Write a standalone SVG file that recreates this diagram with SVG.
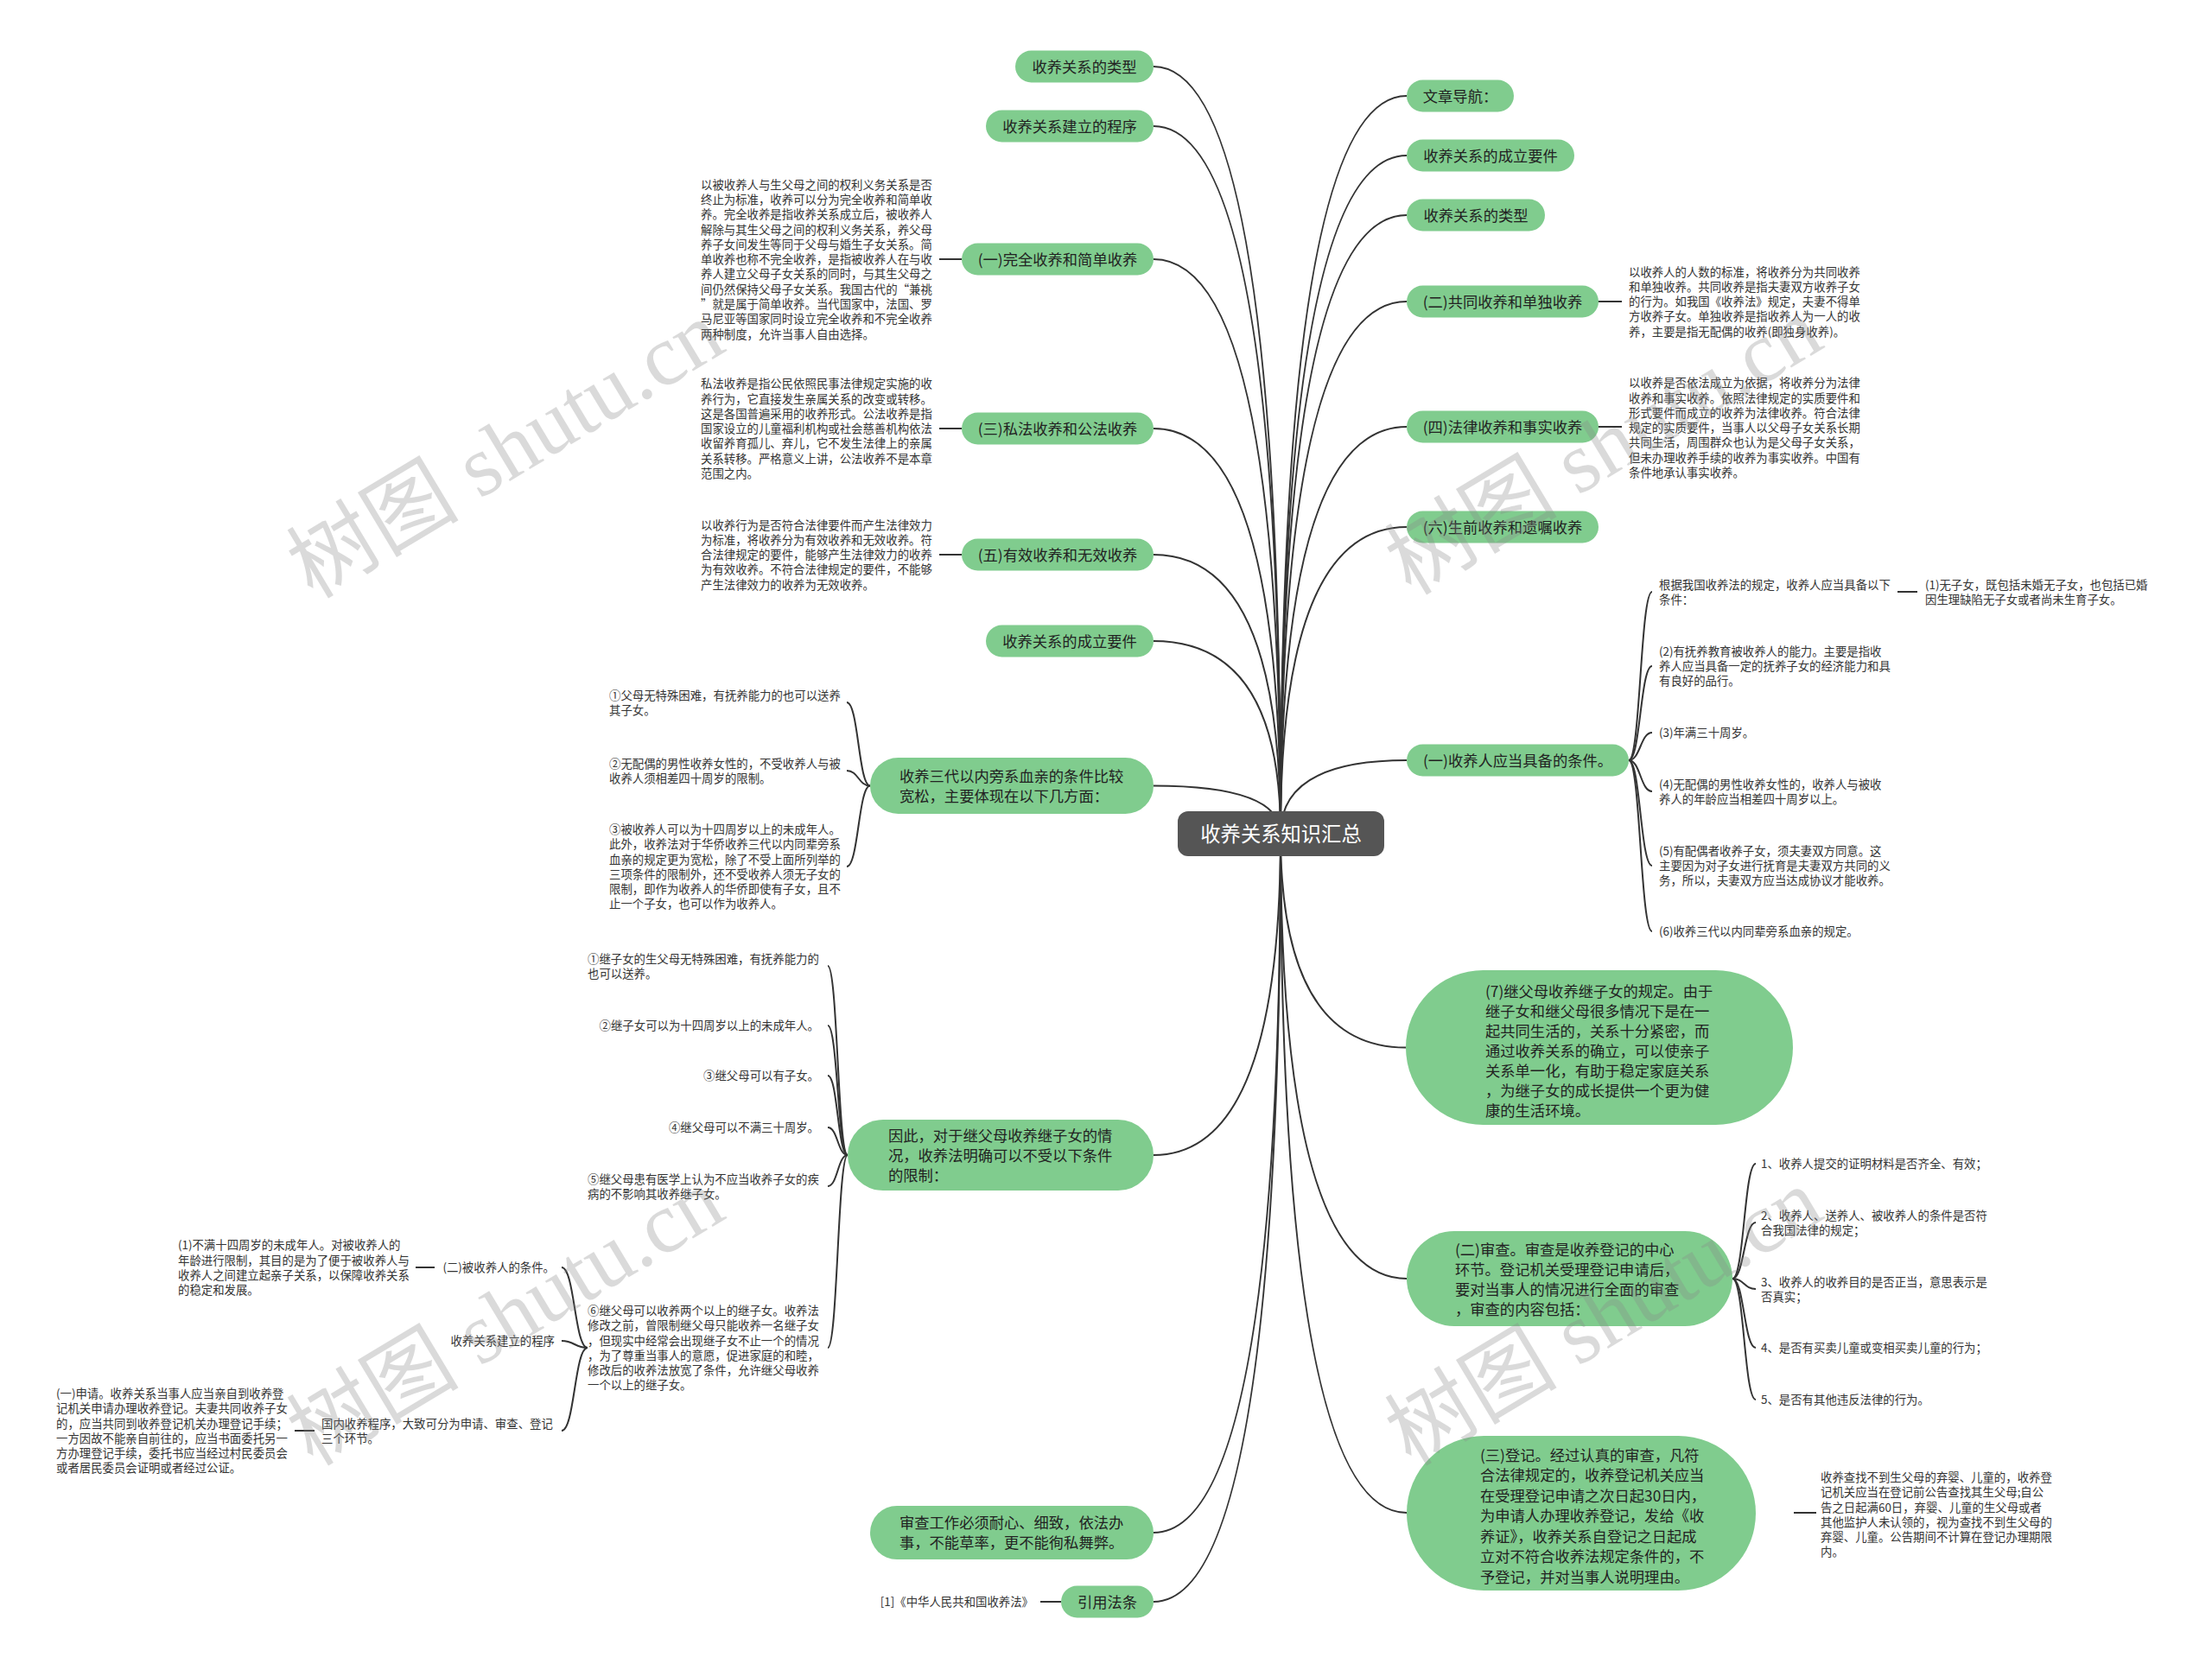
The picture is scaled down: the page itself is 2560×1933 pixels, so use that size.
<svg xmlns="http://www.w3.org/2000/svg" width="2560" height="1933" viewBox="0 0 2560 1933">
<style>
.n{font-family:"Noto Sans CJK SC","Microsoft YaHei",sans-serif;font-size:17.3px;fill:#222}
.c{font-family:"Noto Sans CJK SC","Microsoft YaHei",sans-serif;font-size:23.3px;fill:#fff}
.t{font-family:"Noto Sans CJK SC","Microsoft YaHei",sans-serif;font-size:13.4px;fill:#333}
.m{text-anchor:middle}
.e{text-anchor:end}
.pill{fill:#80cc8e}
.link{fill:none;stroke:#333;stroke-width:2}
.wm{font-family:"Liberation Serif","Noto Sans CJK SC",serif;font-size:100px;fill:#888;opacity:.3}
</style>
<rect width="2560" height="1933" fill="#ffffff"/>
<g id="connectors">
<path class="link" d="M1482,965 Q1482,77 1335,77"/>
<path class="link" d="M1482,965 Q1482,146 1335,146"/>
<path class="link" d="M1482,965 Q1482,300 1335,300"/>
<path class="link" d="M1482,965 Q1482,496 1335,496"/>
<path class="link" d="M1482,965 Q1482,642 1335,642"/>
<path class="link" d="M1482,965 Q1482,742 1335,742"/>
<path class="link" d="M1482,965 Q1482,909.5 1335,909.5"/>
<path class="link" d="M1482,965 Q1482,1337 1335,1337"/>
<path class="link" d="M1482,965 Q1482,1774 1335,1774"/>
<path class="link" d="M1482,965 Q1482,1854 1335,1854"/>
<path class="link" d="M1482,965 Q1482,111 1628,111"/>
<path class="link" d="M1482,965 Q1482,180 1628,180"/>
<path class="link" d="M1482,965 Q1482,249 1628,249"/>
<path class="link" d="M1482,965 Q1482,349 1628,349"/>
<path class="link" d="M1482,965 Q1482,494 1628,494"/>
<path class="link" d="M1482,965 Q1482,610 1628,610"/>
<path class="link" d="M1482,965 Q1482,880 1628,880"/>
<path class="link" d="M1482,965 Q1482,1212.5 1627,1212.5"/>
<path class="link" d="M1482,965 Q1482,1480 1628,1480"/>
<path class="link" d="M1482,965 Q1482,1751 1628,1751"/>
<path class="link" d="M1087,300 H1113"/>
<path class="link" d="M1087,496 H1113"/>
<path class="link" d="M1087,642 H1113"/>
<path class="link" d="M481,1467 H503"/>
<path class="link" d="M341,1656 H364"/>
<path class="link" d="M1204,1854 H1228"/>
<path class="link" d="M1847,349 H1877"/>
<path class="link" d="M1847,494 H1877"/>
<path class="link" d="M2196,685 H2219"/>
<path class="link" d="M2076,1751 H2102"/>
<path class="link" d="M1007,909.5 C993.5,909.5 993.5,813 980,813"/>
<path class="link" d="M1007,909.5 C993.5,909.5 993.5,892 980,892"/>
<path class="link" d="M1007,909.5 C993.5,909.5 993.5,1003 980,1003"/>
<path class="link" d="M981,1337 C969.5,1337 969.5,1118 958,1118"/>
<path class="link" d="M981,1337 C969.5,1337 969.5,1187 958,1187"/>
<path class="link" d="M981,1337 C969.5,1337 969.5,1245 958,1245"/>
<path class="link" d="M981,1337 C969.5,1337 969.5,1305 958,1305"/>
<path class="link" d="M981,1337 C969.5,1337 969.5,1373 958,1373"/>
<path class="link" d="M981,1337 C969.5,1337 969.5,1560 958,1560"/>
<path class="link" d="M680,1560 C665,1560 665,1467 650,1467"/>
<path class="link" d="M680,1560 C665,1560 665,1552 650,1552"/>
<path class="link" d="M680,1560 C665,1560 665,1656 650,1656"/>
<path class="link" d="M1885,880 C1898.5,880 1898.5,685 1912,685"/>
<path class="link" d="M1885,880 C1898.5,880 1898.5,771 1912,771"/>
<path class="link" d="M1885,880 C1898.5,880 1898.5,848 1912,848"/>
<path class="link" d="M1885,880 C1898.5,880 1898.5,916 1912,916"/>
<path class="link" d="M1885,880 C1898.5,880 1898.5,1002 1912,1002"/>
<path class="link" d="M1885,880 C1898.5,880 1898.5,1078 1912,1078"/>
<path class="link" d="M2005,1480 C2018.5,1480 2018.5,1347 2032,1347"/>
<path class="link" d="M2005,1480 C2018.5,1480 2018.5,1415 2032,1415"/>
<path class="link" d="M2005,1480 C2018.5,1480 2018.5,1492 2032,1492"/>
<path class="link" d="M2005,1480 C2018.5,1480 2018.5,1560 2032,1560"/>
<path class="link" d="M2005,1480 C2018.5,1480 2018.5,1620 2032,1620"/>
</g>
<g id="center">
<rect x="1363" y="939" width="239" height="52" rx="12" fill="#555"/>
<text class="c m" x="1482.5" y="973.9">收养关系知识汇总</text>
</g>
<g id="n-left-types">
<rect class="pill" x="1175" y="58.5" width="160" height="37" rx="18.5"/>
<text class="n m" x="1255" y="83.6">收养关系的类型</text>
</g>
<g id="n-left-procedure">
<rect class="pill" x="1141" y="127.5" width="194" height="37" rx="18.5"/>
<text class="n m" x="1238" y="152.6">收养关系建立的程序</text>
</g>
<g id="n-complete">
<rect class="pill" x="1113" y="281.5" width="222" height="37" rx="18.5"/>
<text class="n m" x="1224" y="306.6">(一)完全收养和简单收养</text>
</g>
<g id="n-private">
<rect class="pill" x="1113" y="477.5" width="222" height="37" rx="18.5"/>
<text class="n m" x="1224" y="502.6">(三)私法收养和公法收养</text>
</g>
<g id="n-valid">
<rect class="pill" x="1113" y="623.5" width="222" height="37" rx="18.5"/>
<text class="n m" x="1224" y="648.6">(五)有效收养和无效收养</text>
</g>
<g id="n-left-requirements">
<rect class="pill" x="1141" y="723.5" width="194" height="37" rx="18.5"/>
<text class="n m" x="1238" y="748.6">收养关系的成立要件</text>
</g>
<g id="n-three-gen">
<rect class="pill" x="1007" y="877" width="328" height="65" rx="32.5"/>
<text class="n" x="1041" y="904.6">收养三代以内旁系血亲的条件比较<tspan x="1041" dy="23">宽松，主要体现在以下几方面：</tspan></text>
</g>
<g id="n-step">
<rect class="pill" x="981" y="1296" width="354" height="82" rx="41"/>
<text class="n" x="1028" y="1320.6">因此，对于继父母收养继子女的情<tspan x="1028" dy="23">况，收养法明确可以不受以下条件</tspan><tspan x="1028" dy="23">的限制：</tspan></text>
</g>
<g id="n-review-work">
<rect class="pill" x="1007" y="1743" width="328" height="62" rx="31"/>
<text class="n" x="1041" y="1769.1">审查工作必须耐心、细致，依法办<tspan x="1041" dy="23">事，不能草率，更不能徇私舞弊。</tspan></text>
</g>
<g id="n-cite">
<rect class="pill" x="1228" y="1835.5" width="107" height="37" rx="18.5"/>
<text class="n m" x="1281.5" y="1860.6">引用法条</text>
</g>
<g id="n-nav">
<rect class="pill" x="1628" y="92.5" width="124" height="37" rx="18.5"/>
<text class="n m" x="1690" y="117.6">文章导航：</text>
</g>
<g id="n-right-requirements">
<rect class="pill" x="1628" y="161.5" width="194" height="37" rx="18.5"/>
<text class="n m" x="1725" y="186.6">收养关系的成立要件</text>
</g>
<g id="n-right-types">
<rect class="pill" x="1628" y="230.5" width="160" height="37" rx="18.5"/>
<text class="n m" x="1708" y="255.6">收养关系的类型</text>
</g>
<g id="n-joint">
<rect class="pill" x="1628" y="330.5" width="222" height="37" rx="18.5"/>
<text class="n m" x="1739" y="355.6">(二)共同收养和单独收养</text>
</g>
<g id="n-legal">
<rect class="pill" x="1628" y="475.5" width="222" height="37" rx="18.5"/>
<text class="n m" x="1739" y="500.6">(四)法律收养和事实收养</text>
</g>
<g id="n-will">
<rect class="pill" x="1628" y="591.5" width="222" height="37" rx="18.5"/>
<text class="n m" x="1739" y="616.6">(六)生前收养和遗嘱收养</text>
</g>
<g id="n-adopter-cond">
<rect class="pill" x="1628" y="861.5" width="257" height="37" rx="18.5"/>
<text class="n m" x="1756.5" y="886.6">(一)收养人应当具备的条件。</text>
</g>
<g id="n-step7">
<rect class="pill" x="1627" y="1123" width="448" height="179" rx="89.5"/>
<text class="n" x="1719" y="1153.6">(7)继父母收养继子女的规定。由于<tspan x="1719" dy="23">继子女和继父母很多情况下是在一</tspan><tspan x="1719" dy="23">起共同生活的，关系十分紧密，而</tspan><tspan x="1719" dy="23">通过收养关系的确立，可以使亲子</tspan><tspan x="1719" dy="23">关系单一化，有助于稳定家庭关系</tspan><tspan x="1719" dy="23">，为继子女的成长提供一个更为健</tspan><tspan x="1719" dy="23">康的生活环境。</tspan></text>
</g>
<g id="n-review">
<rect class="pill" x="1628" y="1425" width="377" height="110" rx="55"/>
<text class="n" x="1684" y="1453.1">(二)审查。审查是收养登记的中心<tspan x="1684" dy="23">环节。登记机关受理登记申请后，</tspan><tspan x="1684" dy="23">要对当事人的情况进行全面的审查</tspan><tspan x="1684" dy="23">，审查的内容包括：</tspan></text>
</g>
<g id="n-register">
<rect class="pill" x="1628" y="1662" width="404" height="179" rx="89.5"/>
<text class="n" x="1713" y="1690.6">(三)登记。经过认真的审查，凡符<tspan x="1713" dy="23.5">合法律规定的，收养登记机关应当</tspan><tspan x="1713" dy="23.5">在受理登记申请之次日起30日内，</tspan><tspan x="1713" dy="23.5">为申请人办理收养登记，发给《收</tspan><tspan x="1713" dy="23.5">养证》，收养关系自登记之日起成</tspan><tspan x="1713" dy="23.5">立对不符合收养法规定条件的，不</tspan><tspan x="1713" dy="23.5">予登记，并对当事人说明理由。</tspan></text>
</g>
<g id="leaf-complete">
<text class="t" x="811" y="218.6">以被收养人与生父母之间的权利义务关系是否<tspan x="811" dy="17.3">终止为标准，收养可以分为完全收养和简单收</tspan><tspan x="811" dy="17.3">养。完全收养是指收养关系成立后，被收养人</tspan><tspan x="811" dy="17.3">解除与其生父母之间的权利义务关系，养父母</tspan><tspan x="811" dy="17.3">养子女间发生等同于父母与婚生子女关系。简</tspan><tspan x="811" dy="17.3">单收养也称不完全收养，是指被收养人在与收</tspan><tspan x="811" dy="17.3">养人建立父母子女关系的同时，与其生父母之</tspan><tspan x="811" dy="17.3">间仍然保持父母子女关系。我国古代的“兼祧</tspan><tspan x="811" dy="17.3">”就是属于简单收养。当代国家中，法国、罗</tspan><tspan x="811" dy="17.3">马尼亚等国家同时设立完全收养和不完全收养</tspan><tspan x="811" dy="17.3">两种制度，允许当事人自由选择。</tspan></text>
</g>
<g id="leaf-private">
<text class="t" x="811" y="449.2">私法收养是指公民依照民事法律规定实施的收<tspan x="811" dy="17.3">养行为，它直接发生亲属关系的改变或转移。</tspan><tspan x="811" dy="17.3">这是各国普遍采用的收养形式。公法收养是指</tspan><tspan x="811" dy="17.3">国家设立的儿童福利机构或社会慈善机构依法</tspan><tspan x="811" dy="17.3">收留养育孤儿、弃儿，它不发生法律上的亲属</tspan><tspan x="811" dy="17.3">关系转移。严格意义上讲，公法收养不是本章</tspan><tspan x="811" dy="17.3">范围之内。</tspan></text>
</g>
<g id="leaf-valid">
<text class="t" x="811" y="612.5">以收养行为是否符合法律要件而产生法律效力<tspan x="811" dy="17.3">为标准，将收养分为有效收养和无效收养。符</tspan><tspan x="811" dy="17.3">合法律规定的要件，能够产生法律效力的收养</tspan><tspan x="811" dy="17.3">为有效收养。不符合法律规定的要件，不能够</tspan><tspan x="811" dy="17.3">产生法律效力的收养为无效收养。</tspan></text>
</g>
<g id="leaf-three-gen">
<text class="t" x="705" y="809.5">①父母无特殊困难，有抚养能力的也可以送养<tspan x="705" dy="17.3">其子女。</tspan></text>
<text class="t" x="705" y="888.5">②无配偶的男性收养女性的，不受收养人与被<tspan x="705" dy="17.3">收养人须相差四十周岁的限制。</tspan></text>
<text class="t" x="705" y="964.9">③被收养人可以为十四周岁以上的未成年人。<tspan x="705" dy="17.3">此外，收养法对于华侨收养三代以内同辈旁系</tspan><tspan x="705" dy="17.3">血亲的规定更为宽松，除了不受上面所列举的</tspan><tspan x="705" dy="17.3">三项条件的限制外，还不受收养人须无子女的</tspan><tspan x="705" dy="17.3">限制，即作为收养人的华侨即使有子女，且不</tspan><tspan x="705" dy="17.3">止一个子女，也可以作为收养人。</tspan></text>
</g>
<g id="leaf-step">
<text class="t" x="680" y="1114.5">①继子女的生父母无特殊困难，有抚养能力的<tspan x="680" dy="17.3">也可以送养。</tspan></text>
<text class="t e" x="948" y="1192.1">②继子女可以为十四周岁以上的未成年人。</text>
<text class="t e" x="948" y="1250.1">③继父母可以有子女。</text>
<text class="t e" x="948" y="1310.1">④继父母可以不满三十周岁。</text>
<text class="t" x="680" y="1369.5">⑤继父母患有医学上认为不应当收养子女的疾<tspan x="680" dy="17.3">病的不影响其收养继子女。</tspan></text>
</g>
<g id="leaf-six">
<text class="t" x="680" y="1521.9">⑥继父母可以收养两个以上的继子女。收养法<tspan x="680" dy="17.3">修改之前，曾限制继父母只能收养一名继子女</tspan><tspan x="680" dy="17.3">，但现实中经常会出现继子女不止一个的情况</tspan><tspan x="680" dy="17.3">，为了尊重当事人的意愿，促进家庭的和睦，</tspan><tspan x="680" dy="17.3">修改后的收养法放宽了条件，允许继父母收养</tspan><tspan x="680" dy="17.3">一个以上的继子女。</tspan></text>
</g>
<g id="leaf-adoptee-cond">
<text class="t e" x="642" y="1472.1">(二)被收养人的条件。</text>
</g>
<g id="leaf-procedure">
<text class="t e" x="642" y="1557.1">收养关系建立的程序</text>
</g>
<g id="leaf-domestic">
<text class="t" x="372" y="1652.5">国内收养程序，大致可分为申请、审查、登记<tspan x="372" dy="17.3">三个环节。</tspan></text>
</g>
<g id="leaf-under14">
<text class="t" x="206" y="1446.2">(1)不满十四周岁的未成年人。对被收养人的<tspan x="206" dy="17.3">年龄进行限制，其目的是为了便于被收养人与</tspan><tspan x="206" dy="17.3">收养人之间建立起亲子关系，以保障收养关系</tspan><tspan x="206" dy="17.3">的稳定和发展。</tspan></text>
</g>
<g id="leaf-apply">
<text class="t" x="65" y="1617.9">(一)申请。收养关系当事人应当亲自到收养登<tspan x="65" dy="17.3">记机关申请办理收养登记。夫妻共同收养子女</tspan><tspan x="65" dy="17.3">的，应当共同到收养登记机关办理登记手续；</tspan><tspan x="65" dy="17.3">一方因故不能亲自前往的，应当书面委托另一</tspan><tspan x="65" dy="17.3">方办理登记手续，委托书应当经过村民委员会</tspan><tspan x="65" dy="17.3">或者居民委员会证明或者经过公证。</tspan></text>
</g>
<g id="leaf-law">
<text class="t e" x="1196" y="1859.1">[1]《中华人民共和国收养法》</text>
</g>
<g id="leaf-joint">
<text class="t" x="1885" y="319.5">以收养人的人数的标准，将收养分为共同收养<tspan x="1885" dy="17.3">和单独收养。共同收养是指夫妻双方收养子女</tspan><tspan x="1885" dy="17.3">的行为。如我国《收养法》规定，夫妻不得单</tspan><tspan x="1885" dy="17.3">方收养子女。单独收养是指收养人为一人的收</tspan><tspan x="1885" dy="17.3">养，主要是指无配偶的收养(即独身收养)。</tspan></text>
</g>
<g id="leaf-legal">
<text class="t" x="1885" y="448.2">以收养是否依法成立为依据，将收养分为法律<tspan x="1885" dy="17.3">收养和事实收养。依照法律规定的实质要件和</tspan><tspan x="1885" dy="17.3">形式要件而成立的收养为法律收养。符合法律</tspan><tspan x="1885" dy="17.3">规定的实质要件，当事人以父母子女关系长期</tspan><tspan x="1885" dy="17.3">共同生活，周围群众也认为是父母子女关系，</tspan><tspan x="1885" dy="17.3">但未办理收养手续的收养为事实收养。中国有</tspan><tspan x="1885" dy="17.3">条件地承认事实收养。</tspan></text>
</g>
<g id="leaf-adopter">
<text class="t" x="1920" y="681.5">根据我国收养法的规定，收养人应当具备以下<tspan x="1920" dy="17.3">条件：</tspan></text>
<text class="t" x="2228" y="681.5">(1)无子女，既包括未婚无子女，也包括已婚<tspan x="2228" dy="17.3">因生理缺陷无子女或者尚未生育子女。</tspan></text>
<text class="t" x="1920" y="758.8">(2)有抚养教育被收养人的能力。主要是指收<tspan x="1920" dy="17.3">养人应当具备一定的抚养子女的经济能力和具</tspan><tspan x="1920" dy="17.3">有良好的品行。</tspan></text>
<text class="t" x="1920" y="853.1">(3)年满三十周岁。</text>
<text class="t" x="1920" y="912.5">(4)无配偶的男性收养女性的，收养人与被收<tspan x="1920" dy="17.3">养人的年龄应当相差四十周岁以上。</tspan></text>
<text class="t" x="1920" y="989.8">(5)有配偶者收养子女，须夫妻双方同意。这<tspan x="1920" dy="17.3">主要因为对子女进行抚育是夫妻双方共同的义</tspan><tspan x="1920" dy="17.3">务，所以，夫妻双方应当达成协议才能收养。</tspan></text>
<text class="t" x="1920" y="1083.1">(6)收养三代以内同辈旁系血亲的规定。</text>
</g>
<g id="leaf-review">
<text class="t" x="2038" y="1352.1">1、收养人提交的证明材料是否齐全、有效；</text>
<text class="t" x="2038" y="1411.5">2、收养人、送养人、被收养人的条件是否符<tspan x="2038" dy="17.3">合我国法律的规定；</tspan></text>
<text class="t" x="2038" y="1488.5">3、收养人的收养目的是否正当，意思表示是<tspan x="2038" dy="17.3">否真实；</tspan></text>
<text class="t" x="2038" y="1565.1">4、是否有买卖儿童或变相买卖儿童的行为；</text>
<text class="t" x="2038" y="1625.1">5、是否有其他违反法律的行为。</text>
</g>
<g id="leaf-register">
<text class="t" x="2107" y="1714.9">收养查找不到生父母的弃婴、儿童的，收养登<tspan x="2107" dy="17.3">记机关应当在登记前公告查找其生父母;自公</tspan><tspan x="2107" dy="17.3">告之日起满60日，弃婴、儿童的生父母或者</tspan><tspan x="2107" dy="17.3">其他监护人未认领的，视为查找不到生父母的</tspan><tspan x="2107" dy="17.3">弃婴、儿童。公告期间不计算在登记办理期限</tspan><tspan x="2107" dy="17.3">内。</tspan></text>
</g>
<g id="watermarks">
<text class="wm" transform="translate(362,694) rotate(-31)">树图 shutu.cn</text>
<text class="wm" transform="translate(1633,690) rotate(-31)">树图 shutu.cn</text>
<text class="wm" transform="translate(362,1698) rotate(-31)">树图 shutu.cn</text>
<text class="wm" transform="translate(1633,1698) rotate(-31)">树图 shutu.cn</text>
</g>
</svg>
